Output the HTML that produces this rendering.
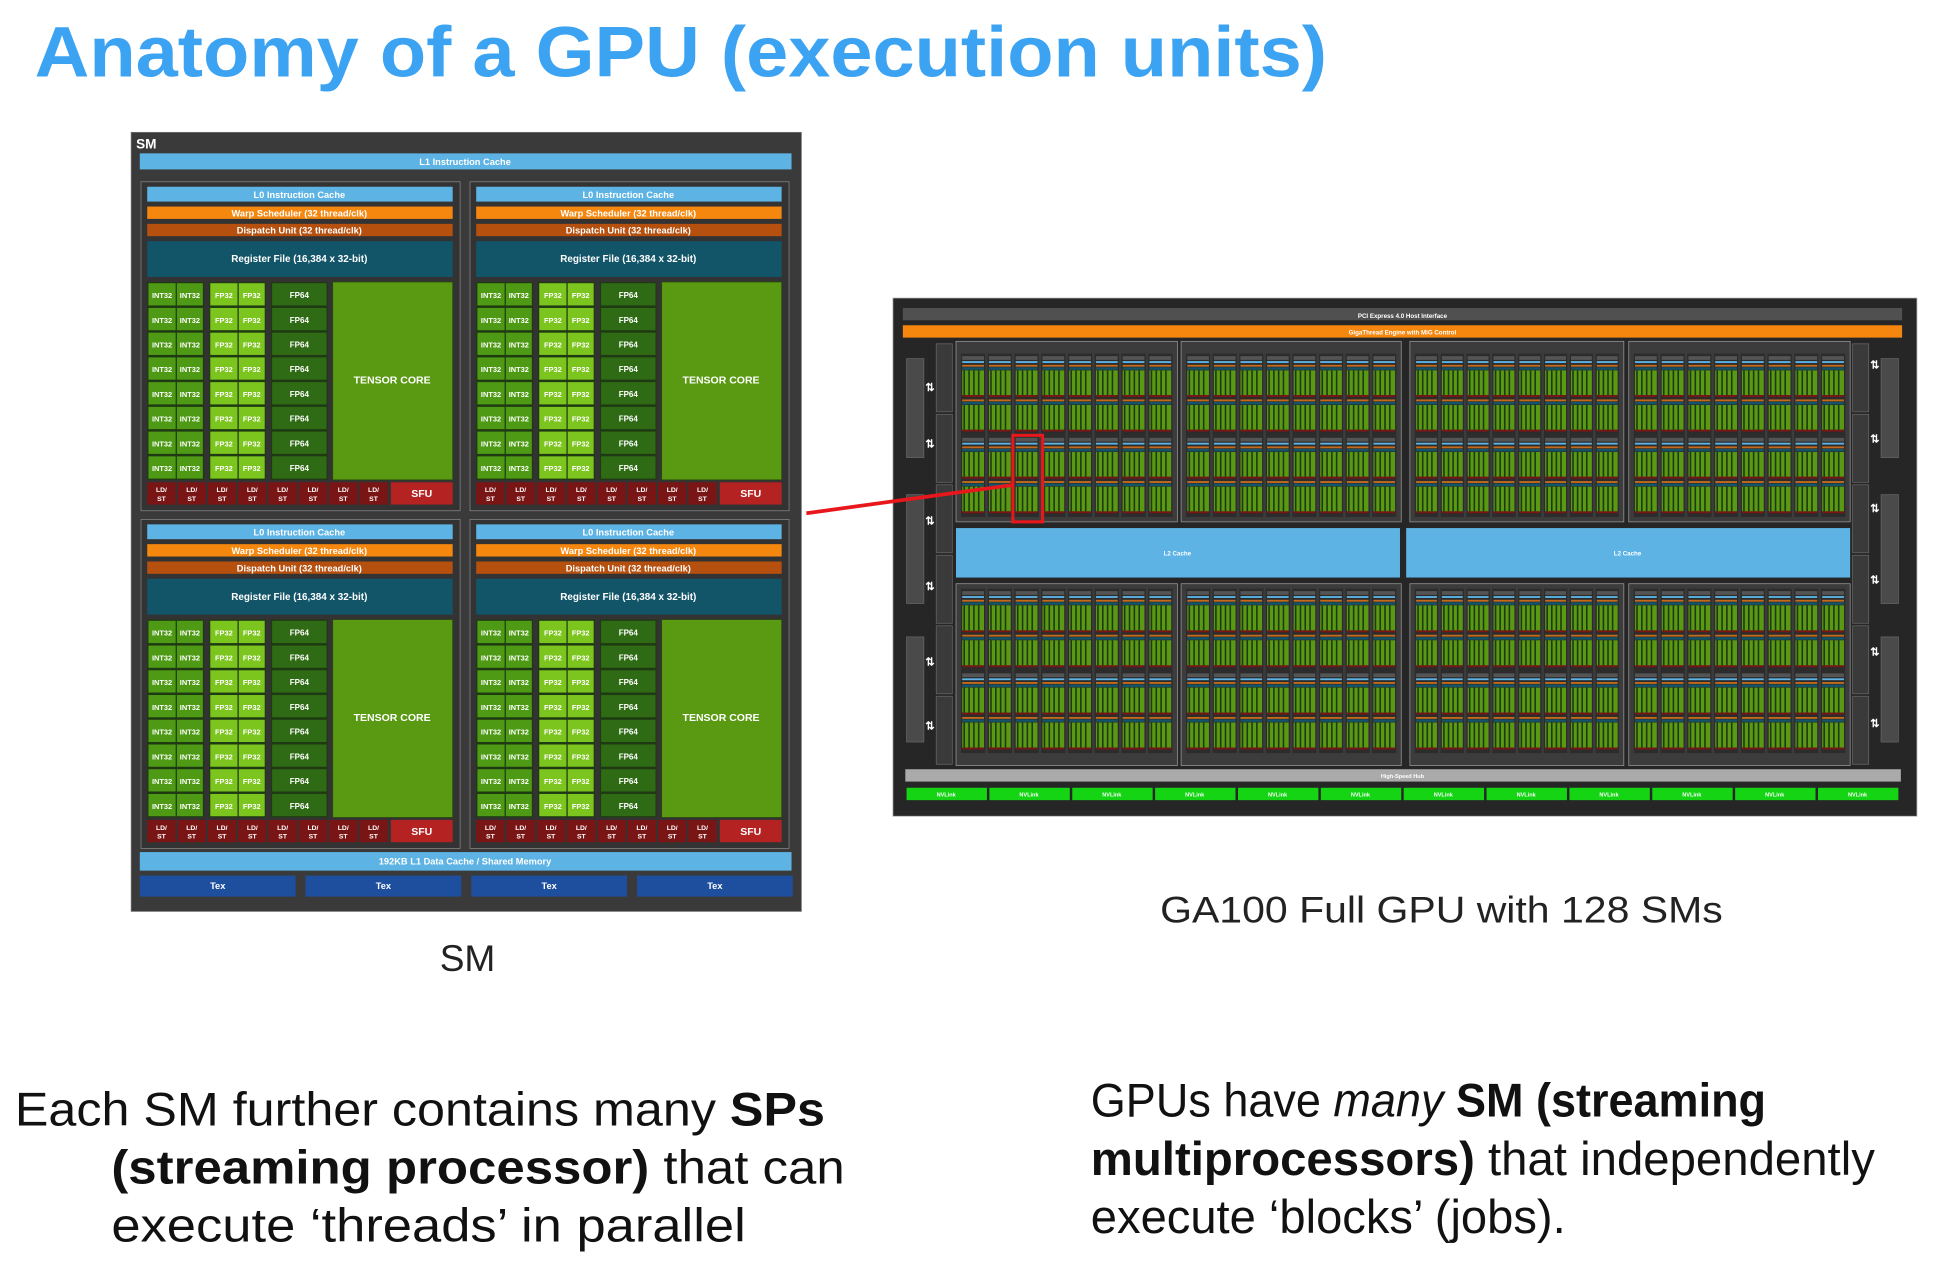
<!DOCTYPE html>
<html><head><meta charset="utf-8"><style>
html,body{margin:0;padding:0;background:#fff;width:1938px;height:1278px;overflow:hidden}
svg{display:block}
.b{font-family:"Liberation Sans",Arial,sans-serif;font-weight:bold;fill:#fff}
</style></head><body>
<svg id="s" width="1938" height="1278" viewBox="0 0 1567 1033.4" xmlns="http://www.w3.org/2000/svg">
<rect width="1567" height="1034" fill="#fff"/>
<text x="28" y="62" font-family="Liberation Sans,sans-serif" font-weight="bold" font-size="58" fill="#3ca3f2" textLength="1045" lengthAdjust="spacingAndGlyphs">Anatomy of a GPU (execution units)</text>
<g id="sm"></g>
<g id="gpu"></g>
<line x1="652" y1="415" x2="820" y2="392" stroke="#e8171c" stroke-width="3"/>
<rect x="819" y="352" width="24" height="70" fill="none" stroke="#e8171c" stroke-width="2.5"/>
<text x="378" y="785" text-anchor="middle" font-family="Liberation Sans,sans-serif" font-size="30" fill="#222">SM</text>
<text x="938" y="746" font-family="Liberation Sans,sans-serif" font-size="30" fill="#222" textLength="455" lengthAdjust="spacingAndGlyphs">GA100 Full GPU with 128 SMs</text>
<g font-family="Liberation Sans,sans-serif" font-size="38" fill="#111">
<text x="12" y="910" textLength="655" lengthAdjust="spacingAndGlyphs">Each SM further contains many <tspan font-weight="bold">SPs</tspan></text>
<text x="90" y="957" textLength="593" lengthAdjust="spacingAndGlyphs"><tspan font-weight="bold">(streaming processor)</tspan> that can</text>
<text x="90" y="1004" textLength="513" lengthAdjust="spacingAndGlyphs">execute ‘threads’ in parallel</text>
<text x="882" y="903" textLength="546" lengthAdjust="spacingAndGlyphs">GPUs have <tspan font-style="italic">many</tspan> <tspan font-weight="bold">SM (streaming</tspan></text>
<text x="882" y="950" textLength="634" lengthAdjust="spacingAndGlyphs"><tspan font-weight="bold">multiprocessors)</tspan> that independently</text>
<text x="882" y="997" textLength="384" lengthAdjust="spacingAndGlyphs">execute ‘blocks’ (jobs).</text>
</g>
</svg>
<script>
const NS="http://www.w3.org/2000/svg";
function R(p,x,y,w,h,f,st){const r=document.createElementNS(NS,"rect");r.setAttribute("x",x);r.setAttribute("y",y);r.setAttribute("width",w);r.setAttribute("height",h);r.setAttribute("fill",f);if(st){r.setAttribute("stroke",st);r.setAttribute("stroke-width",0.6);}p.appendChild(r);return r;}
function T(p,x,y,s,t,fs,anc,fill){const e=document.createElementNS(NS,"text");e.setAttribute("x",x);e.setAttribute("y",y);e.setAttribute("font-size",fs);e.setAttribute("class","b");e.setAttribute("text-anchor",anc||"middle");if(fill)e.setAttribute("fill",fill);e.textContent=t;p.appendChild(e);return e;}
const sm=document.getElementById("sm");
R(sm,106,107,542,630,"#3a3a3a","#777");
T(sm,110,120,0,"SM",11,"start");
R(sm,113,124,527,13,"#5cb3e4");T(sm,376,133.5,0,"L1 Instruction Cache",7.5);
function quad(ox,oy){
 R(sm,ox,oy,258,266,"#333","#888");
 R(sm,ox+5,oy+4,247,12,"#5cb3e4");T(sm,ox+128,oy+13,0,"L0 Instruction Cache",7.5);
 R(sm,ox+5,oy+20,247,10,"#f5870f");T(sm,ox+128,oy+28,0,"Warp Scheduler (32 thread/clk)",7.5);
 R(sm,ox+5,oy+34,247,10,"#b5500f");T(sm,ox+128,oy+42,0,"Dispatch Unit (32 thread/clk)",7.5);
 R(sm,ox+5,oy+48,247,29,"#125468");T(sm,ox+128,oy+65,0,"Register File (16,384 x 32-bit)",8);
 R(sm,ox+5,oy+81,46,160,"#1f3a12");R(sm,ox+55,oy+81,46,160,"#1f3a12");R(sm,ox+105,oy+81,46,160,"#1f3a12");
 for(let i=0;i<8;i++){const y=oy+82+i*20;
  R(sm,ox+6,y,22,18,"#4e9a14");R(sm,ox+29,y,21,18,"#4e9a14");
  T(sm,ox+17,y+12,0,"INT32",6);T(sm,ox+39.5,y+12,0,"INT32",6);
  R(sm,ox+56,y,22,18,"#7cc51e");R(sm,ox+79,y,21,18,"#7cc51e");
  T(sm,ox+67,y+12,0,"FP32",6);T(sm,ox+89.5,y+12,0,"FP32",6);
  R(sm,ox+106,y,44,18,"#2f6a14");T(sm,ox+128,y+12,0,"FP64",6.5);}
 R(sm,ox+155,oy+81,97,160,"#5a9a12","#2a4a10");T(sm,ox+203,oy+163,0,"TENSOR CORE",8.5);
 for(let i=0;i<8;i++){const x=ox+5+i*24.5;R(sm,x,oy+243,23,18,"#7a1515");T(sm,x+11.5,oy+251,0,"LD/",5.5);T(sm,x+11.5,oy+258,0,"ST",5.5);}
 R(sm,ox+202,oy+243,50,18,"#b52222");T(sm,ox+227,oy+255,0,"SFU",8.5);
}
quad(114,147);quad(380,147);quad(114,420);quad(380,420);
R(sm,113,689,527,15,"#5cb3e4");T(sm,376,699,0,"192KB L1 Data Cache / Shared Memory",7.5);
for(let i=0;i<4;i++){R(sm,113+i*134,708,126,17,"#1e4e9e");T(sm,176+i*134,719,0,"Tex",7.5);}
const g=document.getElementById("gpu");
R(g,722,241,828,419,"#262626","#aaa");
R(g,730,249,808,10,"#505050");T(g,1134,257,0,"PCI Express 4.0 Host Interface",5);
R(g,730,263,808,10,"#f5870f");T(g,1134,270.5,0,"GigaThread Engine with MIG Control",5);
[[733,290,80],[733,400,88],[733,515,85]].forEach(a=>{R(g,a[0],a[1],14,a[2],"#4a4a4a","#666");});
[[1521,290,80],[1521,400,88],[1521,515,85]].forEach(a=>{R(g,a[0],a[1],14,a[2],"#4a4a4a","#666");});
for(let i=0;i<6;i++){R(g,757,278+i*57,13,55,"#3a3a3a","#666");R(g,1498,278+i*57,13,55,"#3a3a3a","#666");}
[[752,316],[752,362],[752,424],[752,477],[752,538],[752,590],[1516,298],[1516,358],[1516,414],[1516,472],[1516,530],[1516,588]].forEach(a=>{T(g,a[0],a[1],0,"⇅",9,"middle","#ddd");});
function gpc(x0,y0,w,h,top){
 R(g,x0,y0,w,h,"#3c3c3c","#999");
 const cw=(w-6)/8;
 for(let c=0;c<8;c++){const x=x0+3+c*cw;
  for(let s=0;s<2;s++){const sy=y0+(top?10:4)+s*(h-14)/2;const sh=(h-14)/2;
   R(g,x+1,sy,cw-2,sh,"#2c2c2c");
   R(g,x+2,sy+2,cw-4,3,"#555");
   R(g,x+2,sy+6,cw-4,1.5,"#5cb3e4");
   for(let q=0;q<2;q++){const qy=sy+9+q*(sh-10)/2;const qh=(sh-10)/2-2;
    R(g,x+2,qy,cw-4,1.5,"#c56a1a");R(g,x+2,qy+2,cw-4,2,"#125468");
    R(g,x+2,qy+4.5,cw-4,qh-6,"#5a9a12");
    for(let k=0;k<4;k++)R(g,x+3+k*(cw-6)/4,qy+4.5,1.3,qh-6,"#1f3a12");
    R(g,x+2,qy+qh-1.5,cw-4,1.5,"#7a1515");}
  }}
}
const gx=[773,955,1140,1317],gw=[179,178,173,179];
for(let i=0;i<4;i++){gpc(gx[i],276,gw[i],146,true);gpc(gx[i],472,gw[i],147,false);}
R(g,773,427,359,40,"#5cb3e4");R(g,1137,427,359,40,"#5cb3e4");
T(g,952,449,0,"L2 Cache",5);T(g,1316,449,0,"L2 Cache",5);
R(g,732,622,805,10,"#aaa");T(g,1134,629,0,"High-Speed Hub",4.5);
for(let i=0;i<12;i++){R(g,733+i*67,637,65,10,"#14d414");T(g,765+i*67,644,0,"NVLink",4.5);}
</script>
</body></html>
